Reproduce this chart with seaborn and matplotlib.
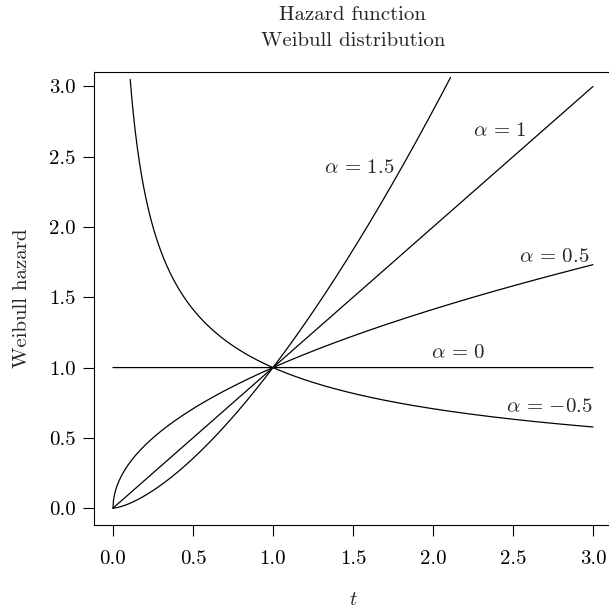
import numpy as np
import pandas as pd
import matplotlib
matplotlib.use("Agg")
import matplotlib.pyplot as plt
import seaborn as sns

# Shape parameters of the Weibull hazard h(t) = t^alpha
alphas = [-0.5, 0.0, 0.5, 1.0, 1.5]
alpha_labels = [r"$\alpha\,=\,{-0.5}$", r"$\alpha\,=\,0$", r"$\alpha\,=\,0.5$", r"$\alpha\,=\,1$", r"$\alpha\,=\,1.5$"]
# label anchor positions (t, hazard)
label_t = [2.73, 2.16, 2.76, 2.42, 1.54]
label_h = [0.72, 1.105, 1.79, 2.68, 2.42]

xticks = [0.0, 0.5, 1.0, 1.5, 2.0, 2.5, 3.0]
xticklabels = ["0.0", "0.5", "1.0", "1.5", "2.0", "2.5", "3.0"]
yticks = [0.0, 0.5, 1.0, 1.5, 2.0, 2.5, 3.0]
yticklabels = ["0.0", "0.5", "1.0", "1.5", "2.0", "2.5", "3.0"]

t = np.linspace(0, 3, 1201)
rows = []
for a in alphas:
    with np.errstate(divide="ignore"):
        h = np.where(t > 0, t ** a, 0.0 if a > 0 else (1.0 if a == 0 else np.inf))
    h = np.where(h <= 3.07, h, np.nan)
    rows.append(pd.DataFrame({"t": t, "h": h, "alpha": a}))
df = pd.concat(rows, ignore_index=True).dropna()

FS = 15

sns.set_theme(style="ticks")
plt.rcParams.update({
    "font.family": ["cmr10", "DejaVu Serif"],
    "mathtext.fontset": "cm",
    "axes.formatter.use_mathtext": True,
    "font.size": FS,
    "axes.linewidth": 0.8,
    "xtick.major.width": 0.8,
    "ytick.major.width": 0.8,
    "xtick.major.size": 8,
    "ytick.major.size": 8,
    "xtick.color": "black",
    "ytick.color": "black",
    "axes.edgecolor": "black",
})

fig = plt.figure(figsize=(6.09, 6.13), dpi=100)
ax = fig.add_axes([93.8 / 609, (613 - 525) / 613, 518.4 / 609, (525 - 71.7) / 613])

for a in alphas:
    sub = df[df["alpha"] == a]
    sns.lineplot(data=sub, x="t", y="h", ax=ax, color="black", linewidth=0.9,
                 sort=False, estimator=None, legend=False)

for lab, x, y in zip(alpha_labels, label_t, label_h):
    ax.text(x, y, lab, ha="center", va="center", fontsize=FS)

ax.set_xlim(-0.12, 3.12)
ax.set_ylim(-0.12, 3.105)
ax.set_xticks(xticks)
ax.set_xticklabels(xticklabels)
ax.set_yticks(yticks)
ax.set_yticklabels(yticklabels)
ax.tick_params(axis="x", direction="out", pad=10, labelsize=FS)
ax.tick_params(axis="y", direction="out", pad=5, labelsize=FS)
for s in ax.spines.values():
    s.set_visible(True)
    s.set_color("black")

ax.set_xlabel(r"$t$", fontsize=FS)
ax.set_ylabel("Weibull hazard", fontsize=FS)
ax.xaxis.label.set_va("center")
ax.yaxis.label.set_va("center")
ax.xaxis.set_label_coords((353 - 93.8) / 518.4, (525 - 600) / 453.3)
ax.yaxis.set_label_coords((22 - 93.8) / 518.4, 0.5)

ax.text((352.7 - 93.8) / 518.4, (525 - 15) / 453.3, "Hazard function",
        transform=ax.transAxes, ha="center", va="center", fontsize=FS)
ax.text((352.7 - 93.8) / 518.4, (525 - 41) / 453.3, "Weibull distribution",
        transform=ax.transAxes, ha="center", va="center", fontsize=FS)

fig.savefig("out.png", dpi=100)
